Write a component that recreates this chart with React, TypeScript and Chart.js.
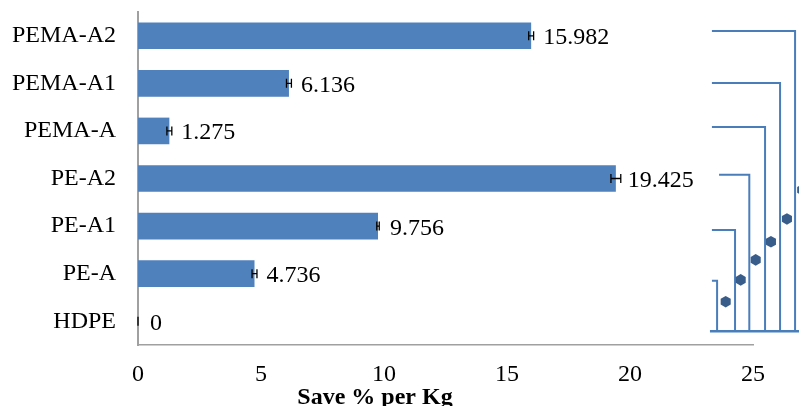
import React, { useEffect, useRef } from 'react';
import { Chart, registerables } from 'chart.js';

Chart.register(...registerables);

// ---- data ----
const categories = ['PEMA-A2', 'PEMA-A1', 'PEMA-A', 'PE-A2', 'PE-A1', 'PE-A', 'HDPE'];
const saveValues = [15.982, 6.136, 1.275, 19.425, 9.756, 4.736, 0];
const saveErrors = [0.1, 0.1, 0.1, 0.2, 0.05, 0.1, 0];
const xMin = 0;
const xMax = 25;
const xStep = 5;
const axisTitle = 'Save % per Kg';

// bracket decoration on the right (x in axis units, y in category-index units)
const bracketLevels = [-0.1, 0.99, 1.92, 2.92, 4.08, 5.15];
const bracketStarts = [23.33, 23.33, 23.33, 23.62, 23.33, 23.33];
const bracketEnds = [26.71, 26.1, 25.49, 24.85, 24.27, 23.54];
const bracketBase = 6.21;
const baseLineStart = 23.25;
const baseLineEnd = 27.3;
const dotX = [23.89, 24.5, 25.11, 25.73, 26.38, 27.0];
const dotY = [5.59, 5.13, 4.71, 4.33, 3.85, 3.24];

const SERIF = '"Liberation Serif", "Times New Roman", serif';
const BAR_COLOR = '#4f81bd';
const LINE_COLOR = '#4a7ebb';
const DOT_COLOR = '#385d8a';
const AXIS_COLOR = '#a0a0a0';

function hexPath(ctx: CanvasRenderingContext2D, cx: number, cy: number, r: number) {
  ctx.beginPath();
  for (let i = 0; i < 6; i++) {
    const a = -Math.PI / 2 + (i * Math.PI) / 3;
    const px = cx + r * Math.cos(a);
    const py = cy + r * Math.sin(a);
    if (i === 0) ctx.moveTo(px, py);
    else ctx.lineTo(px, py);
  }
  ctx.closePath();
}

const extras = {
  id: 'extras',
  afterDatasetsDraw(chart: any) {
    const ctx = chart.ctx;
    const meta = chart.getDatasetMeta(0);
    const xs = chart.scales.x;
    const ys = chart.scales.y;
    ctx.save();
    // error bars + value labels
    meta.data.forEach((bar: any, i: number) => {
      const v = saveValues[i];
      const e = saveErrors[i];
      const y = bar.y;
      const x0 = xs.getPixelForValue(v - e);
      const x1 = xs.getPixelForValue(v + e);
      ctx.strokeStyle = '#000';
      ctx.lineWidth = 1.3;
      ctx.beginPath();
      ctx.moveTo(x0, y);
      ctx.lineTo(x1, y);
      ctx.moveTo(x0, y - 4.5);
      ctx.lineTo(x0, y + 4.5);
      ctx.moveTo(x1, y - 4.5);
      ctx.lineTo(x1, y + 4.5);
      ctx.stroke();
      ctx.fillStyle = '#000';
      ctx.font = `24px ${SERIF}`;
      ctx.textAlign = 'left';
      ctx.textBaseline = 'alphabetic';
      ctx.fillText(String(v), xs.getPixelForValue(v) + 12, y + 8.5);
    });

    // brackets
    ctx.strokeStyle = LINE_COLOR;
    ctx.lineWidth = 2;
    const yb = ys.getPixelForValue(bracketBase);
    bracketLevels.forEach((lvl, i) => {
      const yl = ys.getPixelForValue(lvl);
      const xs0 = xs.getPixelForValue(bracketStarts[i]);
      const xe = xs.getPixelForValue(bracketEnds[i]);
      ctx.beginPath();
      ctx.moveTo(xs0, yl);
      ctx.lineTo(xe, yl);
      ctx.lineTo(xe, yb);
      ctx.stroke();
    });
    ctx.lineWidth = 2.5;
    ctx.beginPath();
    ctx.moveTo(xs.getPixelForValue(baseLineStart), yb);
    ctx.lineTo(xs.getPixelForValue(baseLineEnd), yb);
    ctx.stroke();

    // hexagon markers
    ctx.fillStyle = DOT_COLOR;
    dotX.forEach((dx, i) => {
      hexPath(ctx, xs.getPixelForValue(dx), ys.getPixelForValue(dotY[i]), 5.8);
      ctx.fill();
    });
    ctx.restore();
  },
  afterDraw(chart: any) {
    const ctx = chart.ctx;
    ctx.save();
    ctx.font = `bold 24px ${SERIF}`;
    ctx.fillStyle = '#000';
    ctx.textAlign = 'center';
    ctx.textBaseline = 'alphabetic';
    ctx.fillText(axisTitle, chart.chartArea.left + 237, chart.chartArea.bottom + 59);
    ctx.restore();
  },
};

export default function App() {
  const ref = useRef<HTMLCanvasElement | null>(null);

  useEffect(() => {
    document.body.style.margin = '0';
    const canvas = ref.current;
    if (!canvas) return;

    const chart = new Chart(canvas, {
      type: 'bar',
      data: {
        labels: categories,
        datasets: [
          {
            data: saveValues,
            backgroundColor: BAR_COLOR,
            borderWidth: 0,
            barPercentage: 0.56,
            categoryPercentage: 1,
          },
        ],
      },
      options: {
        indexAxis: 'y',
        responsive: false,
        animation: false,
        layout: { padding: { top: 12, right: 46, left: 0, bottom: 0 } },
        plugins: {
          legend: { display: false },
          tooltip: { enabled: false },
        },
        scales: {
          x: {
            type: 'linear',
            position: 'bottom',
            min: xMin,
            max: xMax,
            ticks: {
              stepSize: xStep,
              color: '#000',
              font: { family: SERIF, size: 24 },
              padding: 15,
            },
            grid: { display: false, drawTicks: false },
            border: { display: true, color: AXIS_COLOR, width: 1.5 },
            afterFit(scale: any) {
              scale.height = 61;
              scale.paddingLeft = 0;
              scale.paddingRight = 0;
            },
          },
          y: {
            type: 'category',
            position: 'left',
            ticks: {
              color: '#000',
              font: { family: SERIF, size: 24 },
              padding: 22,
            },
            grid: { display: false, drawTicks: false },
            border: { display: true, color: AXIS_COLOR, width: 2 },
            afterFit(scale: any) {
              scale.width = 138;
              scale.paddingTop = 0;
              scale.paddingBottom = 0;
            },
          },
        },
      } as any,
      plugins: [extras],
    });

    return () => {
      chart.destroy();
    };
  }, []);

  return (
    <div style={{ width: 799, height: 406 }}>
      <canvas ref={ref} width={799} height={406} style={{ display: 'block' }} />
    </div>
  );
}
